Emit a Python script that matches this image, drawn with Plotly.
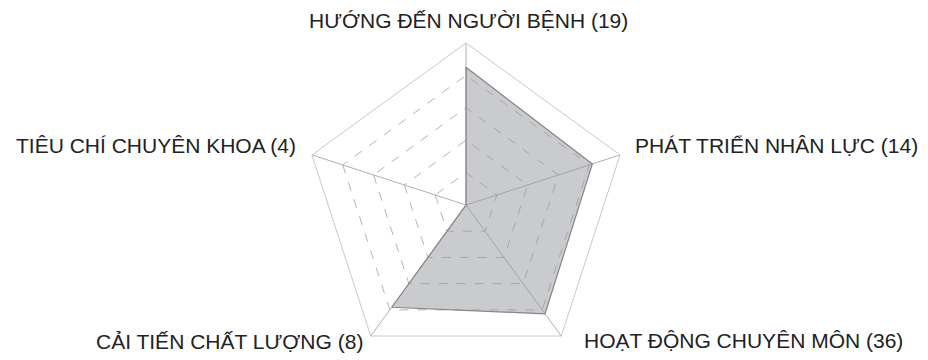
import plotly.graph_objects as go

# Categories (clockwise from the top) and their scores
categories = ["HƯỚNG ĐẾN NGƯỜI BỆNH (19)", "PHÁT TRIỂN NHÂN LỰC (14)",
              "HOẠT ĐỘNG CHUYÊN MÔN (36)", "CẢI TIẾN CHẤT LƯỢNG (8)",
              "TIÊU CHÍ CHUYÊN KHOA (4)"]
scores = [85, 82, 83, 78, 0]

W, H = 928, 360
MT, MB = 35, 1
CX = 458  # centre of the pentagon, px


def px(x):
    return x / W


def py(y):
    # pixel row from the top -> paper y
    return (H - MB - y) / (H - MT - MB)


# label placement around the pentagon (pixel x, pixel y, anchors)
label_pos = [
    (460, 13, "center", "middle"),
    (625, 137, "left", "middle"),
    (574, 332, "left", "middle"),
    (357, 333, "right", "middle"),
    (290, 137, "right", "middle"),
]

fig = go.Figure()
fig.add_trace(go.Scatterpolar(
    r=scores + scores[:1],
    theta=categories + categories[:1],
    mode="lines",
    fill="toself",
    fillcolor="rgba(150,152,160,0.5)",
    line=dict(color="#858585", width=1.2),
    showlegend=False,
    hoverinfo="r+theta"
))

for name, (x, y, xa, ya) in zip(categories, label_pos):
    fig.add_annotation(text=name, xref="paper", yref="paper",
                       x=px(x), y=py(y), xanchor=xa, yanchor=ya,
                       showarrow=False)

fig.update_layout(
    width=W, height=H,
    margin=dict(l=0, r=0, t=MT, b=MB),
    paper_bgcolor="white", plot_bgcolor="white",
    font=dict(family="Liberation Sans", size=21, color="#222222"),
    polar=dict(
        domain=dict(x=[px(CX - 200), px(CX + 200)], y=[0, 1]),
        bgcolor="white",
        gridshape="linear",
        radialaxis=dict(range=[0, 100], dtick=20, showticklabels=False,
                        ticks="", showline=False, gridcolor="#b4b4b4",
                        griddash="dash", gridwidth=1),
        angularaxis=dict(direction="clockwise", rotation=90,
                         showticklabels=False,
                         showline=True, linecolor="#c8c8c8", linewidth=1,
                         gridcolor="#b0b0b0", gridwidth=1, ticks=""),
    ),
)

fig.write_html("out.html")
